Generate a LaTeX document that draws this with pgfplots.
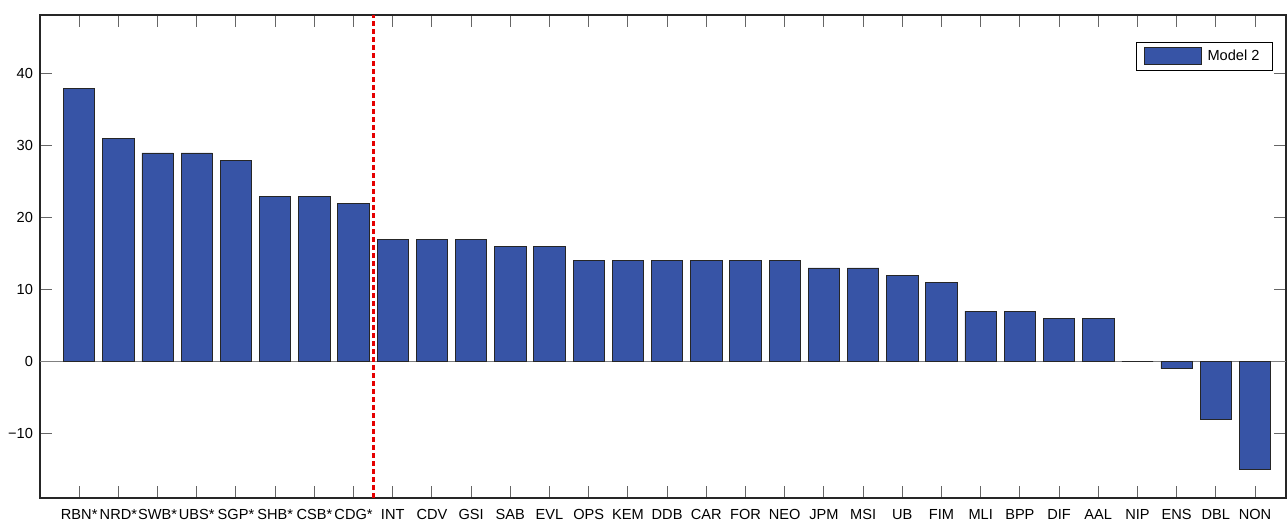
\documentclass[border=0pt]{standalone}
\usepackage{fontspec}
\setmainfont{Liberation Sans}
\usepackage{pgfplots}
\pgfplotsset{compat=1.18}
\definecolor{barblue}{RGB}{55,84,166}
\begin{document}
\begin{tikzpicture}
\begin{axis}[
  at={(0,0)}, anchor=south west,
  scale only axis, width=623pt, height=241.5pt,
  xmin=0, xmax=31.79, ymin=-19, ymax=48.2,
  xtick={1,...,31},
  xticklabels={RBN*,NRD*,SWB*,UBS*,SGP*,SHB*,CSB*,CDG*,INT,CDV,GSI,SAB,EVL,OPS,KEM,DDB,CAR,FOR,NEO,JPM,MSI,UB,FIM,MLI,BPP,DIF,AAL,NIP,ENS,DBL,NON},
  ytick={-10,0,10,20,30,40},
  yticklabels={−10,0,10,20,30,40},
  tick align=inside, xtick pos=both, ytick pos=both,
  major tick length=6pt,
  tick style={black!60, line width=0.5pt},
  axis line style={black!85, line width=0.6pt},
  ticklabel style={font=\fontsize{7.3}{8}\selectfont},
  xticklabel style={yshift=-2pt},
  legend style={at={(1,1)}, anchor=north east, xshift=-6.5pt, yshift=-13.5pt,
    draw=black, line width=0.5pt, inner xsep=3.5pt, inner ysep=2pt,
    font=\fontsize{7.3}{8}\selectfont, nodes={inner xsep=3pt, inner ysep=1.5pt}},
  legend image code/.code={\draw[#1] (0pt,-4.25pt) rectangle (28.5pt,4.25pt);},
]
\addplot[black!50, line width=0.5pt, forget plot] coordinates {(0,0) (31.79,0)};
\addplot[ybar, bar width=0.8, fill=barblue, draw=black!85, line width=0.4pt]
coordinates {
(1,38) (2,31) (3,29) (4,29) (5,28) (6,23) (7,23) (8,22)
(9,17) (10,17) (11,17) (12,16) (13,16) (14,14) (15,14) (16,14)
(17,14) (18,14) (19,14) (20,13) (21,13) (22,12) (23,11) (24,7)
(25,7) (26,6) (27,6) (28,0) (29,-1) (30,-8) (31,-15)
};
\addlegendentry{Model 2}
\addplot[red!90!black, dash pattern=on 2.5pt off 1.5pt, line width=1.6pt, forget plot]
coordinates {(8.5,-19) (8.5,48.2)};
\end{axis}
\pgfresetboundingbox
\path[use as bounding box] (-20pt,-11pt) rectangle (623.5pt,249pt);
\end{tikzpicture}
\end{document}
